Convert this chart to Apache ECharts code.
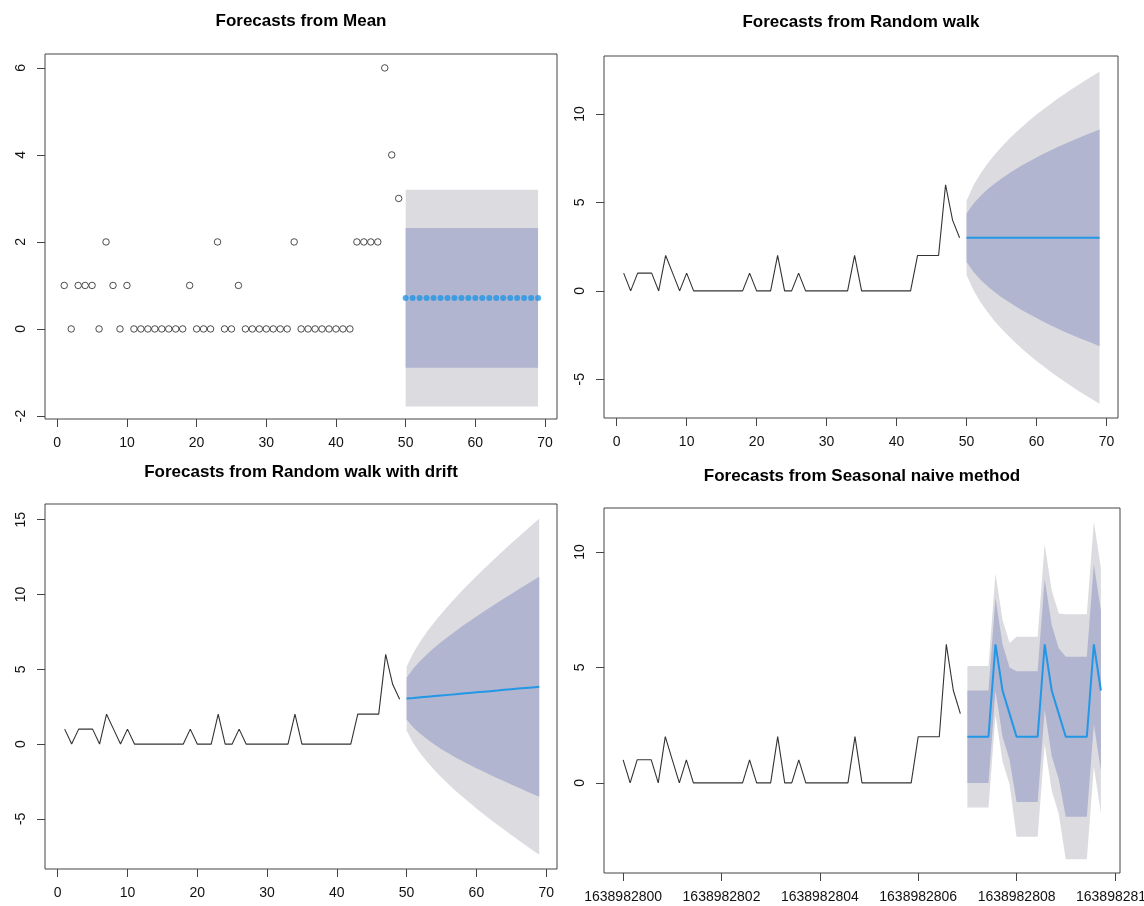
<!DOCTYPE html>
<html>
<head>
<meta charset="utf-8">
<script src="https://cdn.jsdelivr.net/npm/echarts@6/dist/echarts.min.js"></script>
<style>
html,body{margin:0;padding:0;background:#fff;}
#chart{width:1144px;height:906px;}
</style>
</head>
<body>
<div id="chart"></div>
<script>
// ---------------- DATA ----------------
const titles = [
  "Forecasts from Mean",
  "Forecasts from Random walk",
  "Forecasts from Random walk with drift",
  "Forecasts from Seasonal naive method"
];
// observed series (49 points)
const history = [1,0,1,1,1,0,2,1,0,1, 0,0,0,0,0,0,0,0,1,0, 0,0,2,0,0,1,0,0,0,0, 0,0,0,2,0,0,0,0,0,0, 0,0,2,2,2,2,6,4,3];
// forecast horizon positions (index axis)
const fcX = [50,51,52,53,54,55,56,57,58,59,60,61,62,63,64,65,66,67,68,69];

// Mean method
const meanFc   = [0.71,0.71,0.71,0.71,0.71,0.71,0.71,0.71,0.71,0.71,0.71,0.71,0.71,0.71,0.71,0.71,0.71,0.71,0.71,0.71];
const meanLo80 = [-0.89,-0.89,-0.89,-0.89,-0.89,-0.89,-0.89,-0.89,-0.89,-0.89,-0.89,-0.89,-0.89,-0.89,-0.89,-0.89,-0.89,-0.89,-0.89,-0.89];
const meanHi80 = [2.32,2.32,2.32,2.32,2.32,2.32,2.32,2.32,2.32,2.32,2.32,2.32,2.32,2.32,2.32,2.32,2.32,2.32,2.32,2.32];
const meanLo95 = [-1.78,-1.78,-1.78,-1.78,-1.78,-1.78,-1.78,-1.78,-1.78,-1.78,-1.78,-1.78,-1.78,-1.78,-1.78,-1.78,-1.78,-1.78,-1.78,-1.78];
const meanHi95 = [3.20,3.20,3.20,3.20,3.20,3.20,3.20,3.20,3.20,3.20,3.20,3.20,3.20,3.20,3.20,3.20,3.20,3.20,3.20,3.20];

// Random walk
const rwFc   = [3,3,3,3,3,3,3,3,3,3,3,3,3,3,3,3,3,3,3,3];
const rwLo80 = [1.63,1.06,0.63,0.26,-0.06,-0.36,-0.62,-0.87,-1.11,-1.33,-1.54,-1.75,-1.94,-2.13,-2.31,-2.48,-2.65,-2.81,-2.97,-3.13];
const rwHi80 = [4.37,4.94,5.37,5.74,6.06,6.36,6.62,6.87,7.11,7.33,7.54,7.75,7.94,8.13,8.31,8.48,8.65,8.81,8.97,9.13];
const rwLo95 = [0.90,0.03,-0.64,-1.20,-1.70,-2.14,-2.56,-2.94,-3.30,-3.64,-3.97,-4.27,-4.57,-4.86,-5.13,-5.40,-5.66,-5.91,-6.15,-6.39];
const rwHi95 = [5.10,5.97,6.64,7.20,7.70,8.14,8.56,8.94,9.30,9.64,9.97,10.27,10.57,10.86,11.13,11.40,11.66,11.91,12.15,12.39];

// Random walk with drift
const drFc   = [3.04,3.08,3.13,3.17,3.21,3.25,3.29,3.33,3.38,3.42,3.46,3.50,3.54,3.58,3.63,3.67,3.71,3.75,3.79,3.83];
const drLo80 = [1.65,1.09,0.67,0.30,-0.03,-0.34,-0.62,-0.89,-1.13,-1.38,-1.61,-1.84,-2.07,-2.29,-2.49,-2.70,-2.91,-3.12,-3.32,-3.52];
const drHi80 = [4.43,5.07,5.59,6.04,6.45,6.84,7.20,7.55,7.89,8.22,8.53,8.84,9.15,9.45,9.75,10.04,10.33,10.62,10.90,11.18];
const drLo95 = [0.91,0.03,-0.64,-1.22,-1.75,-2.23,-2.69,-3.12,-3.52,-3.91,-4.30,-4.67,-5.04,-5.39,-5.73,-6.08,-6.41,-6.75,-7.08,-7.40];
const drHi95 = [5.17,6.13,6.90,7.56,8.17,8.73,9.27,9.78,10.28,10.75,11.22,11.67,12.12,12.55,12.99,13.42,13.83,14.25,14.66,15.06];

// Seasonal naive (time axis: start 1638982800, frequency 7)
const snStart = 1638982800;
const snFreq = 7;
const snFc   = [2,2,2,2,6,4,3, 2,2,2,2,6,4,3, 2,2,2,2,6,4];
const snLo80 = [0,0,0,0,4,2,1, -0.83,-0.83,-0.83,-0.83,3.17,1.17,0.17, -1.46,-1.46,-1.46,-1.46,2.54,0.54];
const snHi80 = [4,4,4,4,8,6,5, 4.83,4.83,4.83,4.83,8.83,6.83,5.83, 5.46,5.46,5.46,5.46,9.46,7.46];
const snLo95 = [-1.06,-1.06,-1.06,-1.06,2.94,0.94,-0.06, -2.33,-2.33,-2.33,-2.33,1.67,-0.33,-1.33, -3.30,-3.30,-3.30,-3.30,0.70,-1.30];
const snHi95 = [5.06,5.06,5.06,5.06,9.06,7.06,6.06, 6.33,6.33,6.33,6.33,10.33,8.33,7.33, 7.30,7.30,7.30,7.30,11.30,9.30];

// tick labels
const xTicksIdx = [0,10,20,30,40,50,60,70];
const xTicksTime = [1638982800,1638982802,1638982804,1638982806,1638982808,1638982810];
const yTicks = [[-2,0,2,4,6],[-5,0,5,10],[-5,0,5,10,15],[0,5,10]];

// ---------------- CHART ----------------
const C95 = '#DBDBE0', C80 = '#B1B5CF', CBLUE = '#2297E6';
const FONT = 'Liberation Sans, Arial, sans-serif';

const grids = [
  {left:45,  top:54,  width:512, height:365},
  {left:604, top:56,  width:514, height:362},
  {left:45,  top:504, width:512, height:365},
  {left:604, top:508, width:516, height:365}
];
const xRanges = [[-1.76,71.72],[-1.81,71.64],[-1.82,71.55],[1638982799.611,1638982810.103]];
const yRanges = [[-2.07,6.32],[-7.19,13.28],[-8.35,16.05],[-3.9,11.9]];
const titleY = [13,14,464,468];

const histX = history.map((v,i)=>i+1);
const snHistX = history.map((v,i)=>snStart + i/snFreq);
const snFcX = snFc.map((v,i)=>snStart + (history.length+i)/snFreq);

function band(g, xs, lo, hi, color){
  const data = xs.map((x,i)=>[x, lo[i], hi[i]]);
  return {
    type:'custom', xAxisIndex:g, yAxisIndex:g, data:data, silent:true, clip:true,
    encode:{x:0, y:[1,2]},
    renderItem:function(params, api){
      if (params.dataIndex !== 0) return null;
      const pts = [];
      for (let i=0;i<data.length;i++) pts.push(api.coord([data[i][0], data[i][2]]));
      for (let i=data.length-1;i>=0;i--) pts.push(api.coord([data[i][0], data[i][1]]));
      return {type:'polygon', shape:{points:pts}, style:{fill:color}};
    }
  };
}
function line(g, xs, ys, color, w, z){
  return {type:'line', xAxisIndex:g, yAxisIndex:g, data:xs.map((x,i)=>[x,ys[i]]),
    showSymbol:false, symbol:'none', silent:true, z:z||3,
    lineStyle:{color:color, width:w}};
}

const series = [
  // panel 1 : mean
  band(0, fcX, meanLo95, meanHi95, C95),
  band(0, fcX, meanLo80, meanHi80, C80),
  {type:'scatter', xAxisIndex:0, yAxisIndex:0, data:histX.map((x,i)=>[x,history[i]]),
   symbol:'circle', symbolSize:6.5, silent:true,
   itemStyle:{color:'rgba(255,255,255,0)', borderColor:'#222', borderWidth:1}},
  {type:'scatter', xAxisIndex:0, yAxisIndex:0, data:fcX.map((x,i)=>[x,meanFc[i]]),
   symbol:'circle', symbolSize:6, silent:true, itemStyle:{color:CBLUE}},
  // panel 2 : random walk
  band(1, fcX, rwLo95, rwHi95, C95),
  band(1, fcX, rwLo80, rwHi80, C80),
  line(1, histX, history, '#333', 1.1),
  line(1, fcX, rwFc, CBLUE, 2, 4),
  // panel 3 : drift
  band(2, fcX, drLo95, drHi95, C95),
  band(2, fcX, drLo80, drHi80, C80),
  line(2, histX, history, '#333', 1.1),
  line(2, fcX, drFc, CBLUE, 2, 4),
  // panel 4 : seasonal naive
  band(3, snFcX, snLo95, snHi95, C95),
  band(3, snFcX, snLo80, snHi80, C80),
  line(3, snHistX, history, '#333', 1.1),
  line(3, snFcX, snFc, CBLUE, 2, 4)
];

const xAxes = [0,1,2,3].map(g=>({
  type:'value', gridIndex:g, min:xRanges[g][0], max:xRanges[g][1], position:'bottom',
  splitLine:{show:false}, axisLine:{show:false, onZero:false},
  axisTick:{show:true, length:8, lineStyle:{color:'#444'}, customValues: g===3 ? xTicksTime : xTicksIdx},
  axisLabel:{show:true, margin:17, color:'#111', fontSize:14, fontFamily:FONT,
    customValues: g===3 ? xTicksTime : xTicksIdx, formatter:v=>String(Math.round(v)), hideOverlap:false}
}));
const yAxes = [0,1,2,3].map(g=>({
  type:'value', gridIndex:g, min:yRanges[g][0], max:yRanges[g][1], position:'left',
  splitLine:{show:false}, axisLine:{show:false, onZero:false},
  axisTick:{show:true, length:8, lineStyle:{color:'#444'}, customValues:yTicks[g]},
  axisLabel:{show:true, margin:17, rotate:90, color:'#111', fontSize:14, fontFamily:FONT,
    customValues:yTicks[g], formatter:v=>String(v)}
}));

const chart = echarts.init(document.getElementById('chart'), null, {renderer:'canvas'});
chart.setOption({
  animation:false,
  backgroundColor:'#fff',
  title: titles.map((t,g)=>({
    text:t, left: grids[g].left + grids[g].width/2, top:titleY[g], textAlign:'center', padding:0,
    textStyle:{fontSize:17, fontWeight:'bold', color:'#000', fontFamily:FONT}
  })),
  grid: grids.map(g=>Object.assign({show:true, borderColor:'#444', borderWidth:1, backgroundColor:'transparent',
    containLabel:false, outerBoundsMode:'none'}, g)),
  xAxis: xAxes,
  yAxis: yAxes,
  series: series
});
</script>
</body>
</html>
